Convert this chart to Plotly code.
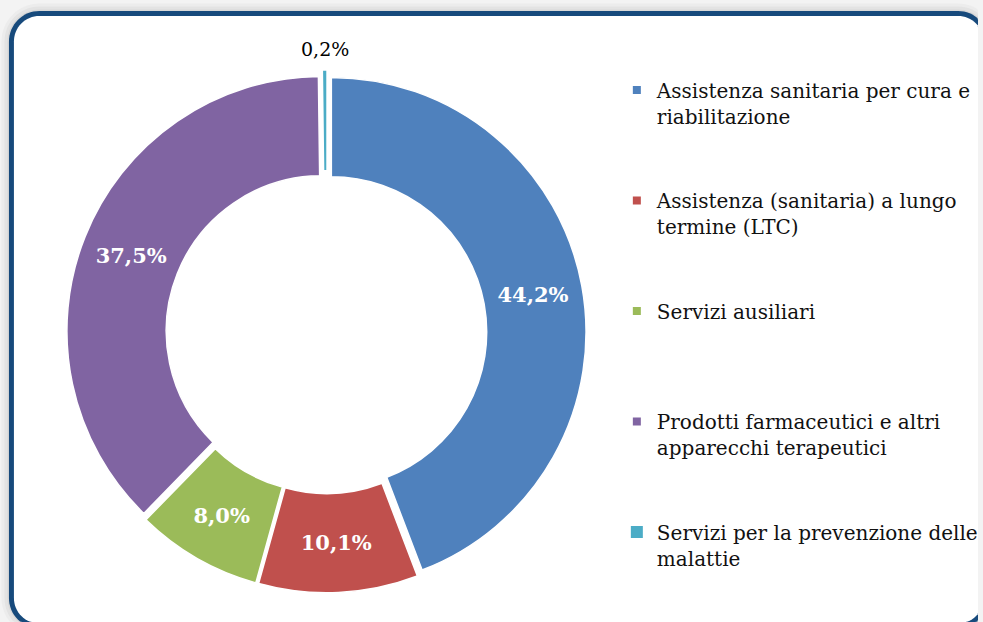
import math
import plotly.graph_objects as go

# ---------------- data ----------------
categories = [
    "Assistenza sanitaria per cura e riabilitazione",
    "Assistenza (sanitaria) a lungo termine (LTC)",
    "Servizi ausiliari",
    "Prodotti farmaceutici e altri apparecchi terapeutici",
    "Servizi per la prevenzione delle malattie",
]
legend_labels = [
    "Assistenza sanitaria per cura e<br>riabilitazione",
    "Assistenza (sanitaria) a lungo<br>termine (LTC)",
    "Servizi ausiliari",
    "Prodotti farmaceutici e altri<br>apparecchi terapeutici",
    "Servizi per la prevenzione delle<br>malattie",
]
shares = [44.2, 10.1, 8.0, 37.5, 0.2]

# ---------------- style ----------------
colors = ["#4F81BD", "#C0504D", "#9BBB59", "#8064A2", "#4BACC6"]
label_inside = [True, True, True, True, False]
pulls = [0.02, 0.02, 0.02, 0.02, 0.03]
FONT = "DejaVu Serif"
W, H = 983, 622


def X(px):
    return px / W


def Y(py):
    return 1 - py / H


def rr_points(x0, y0, x1, y1, r, reverse=False, n=16):
    """Rounded-rectangle outline sampled as pixel points, clamped to the canvas."""
    pts = []
    corners = [(x1 - r, y0 + r, -90), (x1 - r, y1 - r, 0), (x0 + r, y1 - r, 90), (x0 + r, y0 + r, 180)]
    for ccx, ccy, a0 in corners:
        for j in range(n + 1):
            a = math.radians(a0 + 90 * j / n)
            pts.append((ccx + r * math.cos(a), ccy + r * math.sin(a)))
    if reverse:
        pts = pts[::-1]
    return [(min(max(px, 0), W), min(max(py, 0), H)) for px, py in pts]


def to_path(pts):
    return "M " + " L ".join(f"{X(px):.5f},{Y(py):.5f}" for px, py in pts) + " Z"


def fmt(v):
    return f"{v:.1f}".replace(".", ",") + "%"


texts = [f"<b>{fmt(v)}</b>" if ins else "" for v, ins in zip(shares, label_inside)]

fig = go.Figure()

# donut centre (px) and outer radius incl. max pull
cx, cy, r0 = 328, 333, 256
R = r0 * (1 + max(pulls))
fig.add_trace(
    go.Pie(
        labels=categories,
        values=shares,
        text=texts,
        textinfo="text",
        textposition=["inside" if ins else "none" for ins in label_inside],
        insidetextorientation="horizontal",
        insidetextfont=dict(family=FONT, size=21, color="white"),
        hole=0.61,
        sort=False,
        direction="clockwise",
        rotation=0,
        pull=pulls,
        marker=dict(colors=colors, line=dict(color="white", width=[1.5, 1.5, 1.5, 1.5, 0])),
        domain=dict(x=[X(cx - R), X(cx + R)], y=[Y(cy + R), Y(cy - R)]),
        showlegend=False,
        hoverinfo="label+percent",
    )
)

# outside label(s) for the slices too thin to hold text, placed at slice mid-angle
annotations = []
total = sum(shares)
cum = 0.0
for v, ins, p in zip(shares, label_inside, pulls):
    theta = 2 * math.pi * (cum + v / 2) / total
    cum += v
    if ins:
        continue
    rr = r0 * (1 + p) + 7
    annotations.append(dict(
        x=X(cx + rr * math.sin(theta)), y=Y(cy - rr * math.cos(theta)),
        xref="paper", yref="paper", xanchor="center", yanchor="bottom",
        text=fmt(v), showarrow=False,
        font=dict(family=FONT, size=19, color="black"),
    ))

# legend entries (one legend per entry for Excel-like spacing)
legend_layouts = {}
for i, (lab, col) in enumerate(zip(legend_labels, colors)):
    key = "legend" if i == 0 else f"legend{i + 1}"
    fig.add_trace(
        go.Scatter(
            x=[None], y=[None], mode="markers", name=lab,
            marker=dict(symbol="square", size=12 if i == 4 else 8, color=col),
            legend=key, hoverinfo="skip",
        )
    )
    top_px = 90 + i * 110.5 - 19.5
    legend_layouts[key] = dict(
        x=X(620), y=Y(top_px), xanchor="left", yanchor="top",
        bgcolor="rgba(0,0,0,0)", borderwidth=0, valign="top",
        font=dict(family=FONT, size=20, color="#111111"),
    )

# background: shadow + rounded frame (all geometry kept inside the canvas)
fx0, fy0, fx1, fy1, fr, lw = 11.5, 13.5, 991, 626, 28, 5
shapes = []
shadow = [(10, "#ececec"), (7, "#e3e3e3"), (4, "#d9d9d9"), (2, "#d0d0d0")]
for d, c in shadow:
    shapes.append(dict(type="path", xref="paper", yref="paper", layer="below",
                       path=to_path(rr_points(fx0 - d, fy0 - d, fx1 + d, fy1 + d, fr + d)),
                       fillcolor=c, line=dict(width=0)))
h = lw / 2
outer = rr_points(fx0 - h, fy0 - h, fx1 + h, fy1 + h, fr + h)
inner = rr_points(fx0 + h, fy0 + h, fx1 - h, fy1 - h, fr - h)
shapes.append(dict(type="path", xref="paper", yref="paper", layer="below",
                   path=to_path(outer), fillcolor="#174A7C", line=dict(width=0)))
shapes.append(dict(type="path", xref="paper", yref="paper", layer="below",
                   path=to_path(inner), fillcolor="white", line=dict(width=0)))

fig.update_layout(
    width=W, height=H, autosize=False,
    margin=dict(l=0, r=0, t=0, b=0),
    paper_bgcolor="#f3f3f3", plot_bgcolor="rgba(0,0,0,0)",
    template="none",
    xaxis=dict(visible=False), yaxis=dict(visible=False),
    shapes=shapes,
    annotations=annotations,
    **legend_layouts,
)

fig.write_html(
    "out.html",
    config={"displayModeBar": False},
    post_script="document.body.style.margin='0';document.body.style.overflow='hidden';",
)
